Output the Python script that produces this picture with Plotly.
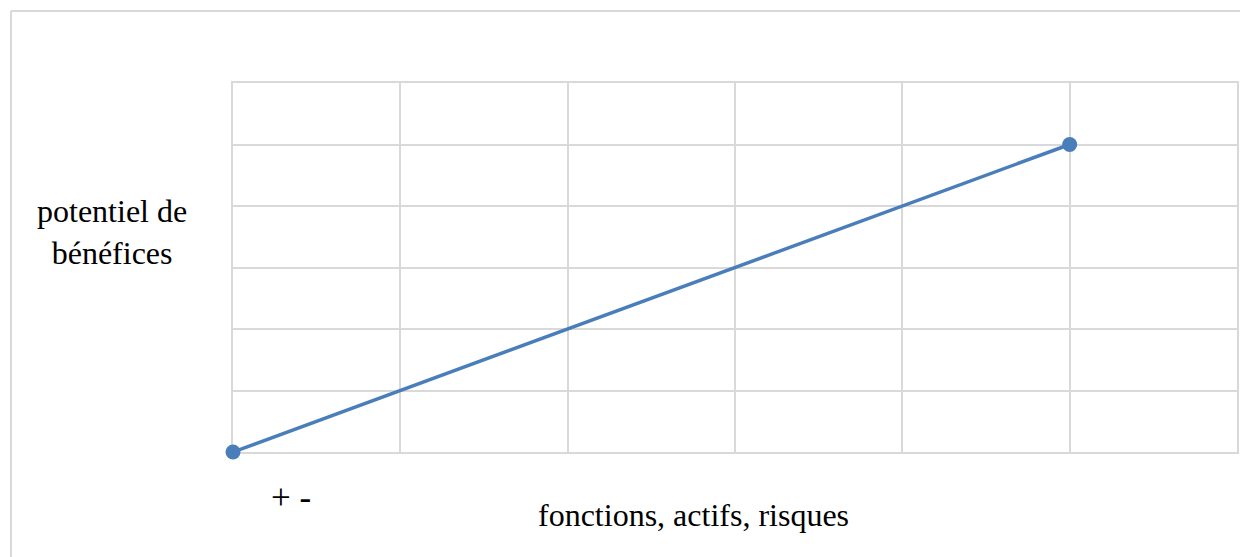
import plotly.graph_objects as go

# Data
x_values = [0, 5]
y_values = [0, 5]
y_label = "potentiel de<br>bénéfices"
x_label = "fonctions, actifs, risques"
sign_label = "+ -"

W, H = 1248, 557
OFF = 8  # page body margin in the browser
# desired on-screen plot area: x 233..1237, y 83..452
L = 233 - OFF
T = 83 - OFF
R = W - (1237 - OFF)
B = H - (452 - OFF)
pw = W - L - R
ph = H - T - B

def px(x):
    return (x - OFF - L) / pw

def py(y):
    return (H - B - (y - OFF)) / ph

fig = go.Figure()
fig.add_trace(go.Scatter(
    x=x_values, y=y_values, mode="lines+markers",
    line=dict(color="#4a7ebb", width=3.5),
    marker=dict(color="#4a7ebb", size=15),
    cliponaxis=False, showlegend=False, hoverinfo="skip",
))

axis_common = dict(
    showgrid=True, gridcolor="#d9d9d9", gridwidth=1.5,
    showticklabels=False, ticks="", zeroline=False,
    showline=True, linecolor="#d9d9d9", linewidth=1.5, mirror=True,
    layer="below traces", fixedrange=True,
)
fig.update_xaxes(range=[0, 6], dtick=1, **axis_common)
fig.update_yaxes(range=[0, 6], dtick=1, **axis_common)

font = dict(family="Liberation Serif, Times New Roman, serif", size=32, color="#000000")

def ann(text, x, y, size=32):
    return dict(text=text, x=px(x), y=py(y), xref="paper", yref="paper",
                xanchor="center", yanchor="middle", showarrow=False,
                font=dict(font, size=size), align="center")

fig.update_layout(
    width=W, height=H,
    margin=dict(l=L, r=R, t=T, b=B),
    paper_bgcolor="white", plot_bgcolor="white",
    font=font,
    annotations=[
        ann(y_label, 112, 232),
        ann(sign_label, 291, 497, size=35),
        ann(x_label, 693, 515),
    ],
    shapes=[
        dict(type="line", xref="paper", yref="paper", x0=px(11), x1=px(1270),
             y0=py(11), y1=py(11), line=dict(color="#d9d9d9", width=2)),
        dict(type="line", xref="paper", yref="paper", x0=px(11), x1=px(11),
             y0=py(11), y1=py(580), line=dict(color="#d9d9d9", width=2)),
    ],
)

fig.write_html("out.html")
